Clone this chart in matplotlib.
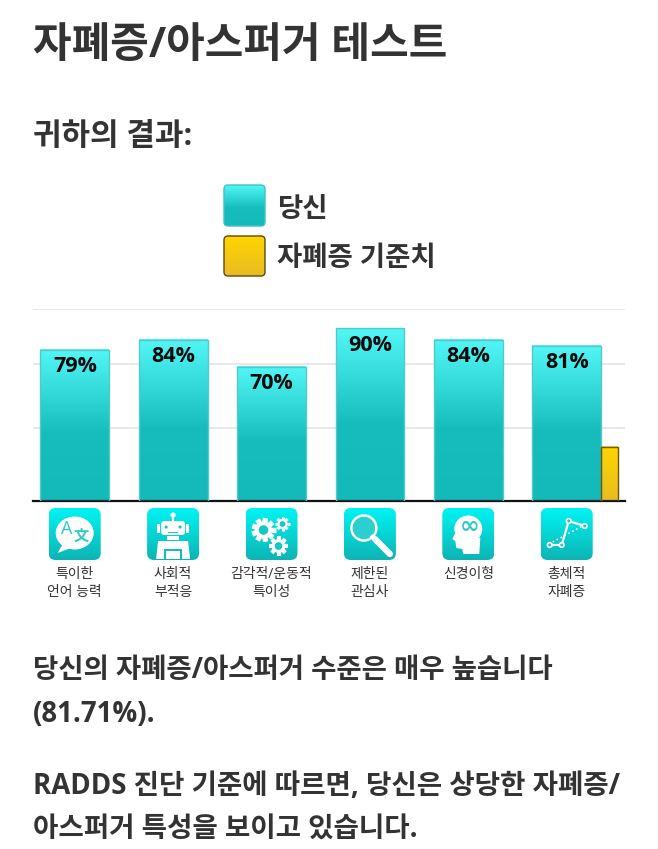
import numpy as np
import matplotlib
matplotlib.use("Agg")
from matplotlib import pyplot as plt
from matplotlib.colors import LinearSegmentedColormap
from matplotlib.patches import FancyBboxPatch, Circle, Rectangle, Polygon, Ellipse

plt.rcParams['font.family'] = ['Open Sans', 'Noto Sans CJK KR', 'DejaVu Sans']

values = [79, 84, 70, 90, 84, 81]
value_labels = ["79%", "84%", "70%", "90%", "84%", "81%"]
threshold = 28.3
grid_values = [38.3, 71.4, 100]
categories = ["특이한\n언어 능력", "사회적\n부적응", "감각적/운동적\n특이성",
              "제한된\n관심사", "신경이형", "총체적\n자폐증"]
legend_labels = ["당신", "자폐증 기준치"]
title = "자폐증/아스퍼거 테스트"
subtitle = "귀하의 결과:"
para1 = ["당신의 자폐증/아스퍼거 수준은 매우 높습니다", "(81.71%)."]
para2 = ["RADDS 진단 기준에 따르면, 당신은 상당한 자폐증/", "아스퍼거 특성을 보이고 있습니다."]

W, H = 658, 849
TEXT = "#333333"
teal = LinearSegmentedColormap.from_list("teal", [(0, "#52F6F6"), (0.55, "#17BDBD"), (1, "#14B9B9")])
icon_teal = LinearSegmentedColormap.from_list("iconteal", ["#00F4F4", "#0DB4B4"])
gold = LinearSegmentedColormap.from_list("gold", ["#FFD500", "#E8BC22"])
grad = np.linspace(0, 1, 128).reshape(-1, 1)

fig = plt.figure(figsize=(W / 100, H / 100), dpi=100, facecolor="white")

# full figure axes in pixels, for text, legend and icons
page = fig.add_axes([0, 0, 1, 1])
page.set_xlim(0, W)
page.set_ylim(H, 0)
page.axis("off")


def grad_box(x, y, w, h, cmap, edge=None, rad=5, lw=1.0):
    box = FancyBboxPatch((x + rad, y + rad), w - 2 * rad, h - 2 * rad,
                         boxstyle="round,pad=%f,rounding_size=%f" % (rad, rad),
                         fc="none", ec=edge if edge else "none", lw=lw, zorder=3)
    page.add_patch(box)
    im = page.imshow(grad, cmap=cmap, extent=(x, x + w, y + h, y), aspect="auto", zorder=2)
    im.set_clip_path(box)


page.text(33, 46, title, fontsize=30.2, fontweight="bold", color=TEXT, va="center")
page.text(33, 137, subtitle, fontsize=22.3, fontweight="bold", color=TEXT, va="center")

grad_box(224, 185, 41, 41, teal, edge="#3CC4C4", rad=4)
grad_box(224, 236, 41, 40, gold, edge="#5A4A10", rad=4)
page.text(277, 209, legend_labels[0], fontsize=19.8, fontweight="bold", color=TEXT, va="center")
page.text(277, 259, legend_labels[1], fontsize=19.8, fontweight="bold", color=TEXT, va="center")

for i, line in enumerate(para1):
    page.text(33, 670 + i * 44, line, fontsize=19.8, fontweight="bold", color=TEXT, va="center")
for i, line in enumerate(para2):
    page.text(33, 786 + i * 44, line, fontsize=19.9, fontweight="bold", color=TEXT, va="center")

# chart axes, baseline at y=501 and 100% at y=309
ax = fig.add_axes([33 / W, 1 - 501.3 / H, 592 / W, 192 / H])
ax.patch.set_alpha(0)
for s in ["top", "left", "right"]:
    ax.spines[s].set_visible(False)
ax.spines["bottom"].set_linewidth(1.6)
ax.spines["bottom"].set_color("#111111")
ax.set_xticks([])
ax.set_yticks(grid_values)
ax.tick_params(axis="y", length=0, labelleft=False)
ax.grid(axis="y", color="#E4E4E4", lw=1.2)
ax.set_axisbelow(True)

x = np.arange(len(values))
width = 0.70
bars = ax.bar(x, values, width, facecolor="none", edgecolor="#55C8C8", lw=1.0, zorder=3)
for bar, label in zip(bars, value_labels):
    bx, bw, bh = bar.get_x(), bar.get_width(), bar.get_height()
    ax.imshow(grad, cmap=teal, extent=(bx, bx + bw, 0, bh), aspect="auto", zorder=2)
    ax.annotate(label, (bx + bw / 2, bh), xytext=(0, -12), textcoords="offset points",
                ha="center", va="center", fontsize=15.5, fontweight="bold",
                family="Open Sans", color="#0A0A0A", zorder=5)

y_bar = ax.bar([x[-1] + width / 2], [threshold], 0.167, align="edge",
               facecolor="none", edgecolor="#6B5510", lw=1.0, zorder=3)[0]
ax.imshow(grad, cmap=gold, extent=(y_bar.get_x(), y_bar.get_x() + y_bar.get_width(), 0, threshold),
          aspect="auto", zorder=2)
ax.set_xlim(-0.425, 5.591)
ax.set_ylim(0, 100)


# icons, coordinates inside a 52 px square
def icon_translate(ox, oy):
    c = "white"
    page.add_patch(Ellipse((ox + 26, oy + 25), 38, 33, fc=c, zorder=4))
    page.add_patch(Polygon([(ox + 14, oy + 36), (ox + 9, oy + 45), (ox + 22, oy + 40)], fc=c, zorder=4))
    page.text(ox + 18, oy + 21, "A", fontsize=13, color="#35C8C8", ha="center", va="center", zorder=5)
    page.text(ox + 33, oy + 29, "文", fontsize=11, color="#35C8C8", ha="center", va="center", zorder=5, fontweight="bold")


def icon_robot(ox, oy):
    c = "white"
    page.add_patch(Circle((ox + 26, oy + 7), 2.6, fc=c, zorder=4))
    page.add_patch(Rectangle((ox + 25, oy + 8), 2, 5, fc=c, zorder=4))
    page.add_patch(FancyBboxPatch((ox + 15, oy + 14), 22, 12, boxstyle="round,pad=1,rounding_size=3", fc=c, ec="none", zorder=4))
    page.add_patch(Rectangle((ox + 10, oy + 16), 3, 9, fc=c, zorder=4))
    page.add_patch(Rectangle((ox + 39, oy + 16), 3, 9, fc=c, zorder=4))
    page.add_patch(Circle((ox + 19, oy + 19), 1.6, fc="#22C4C4", zorder=5))
    page.add_patch(Circle((ox + 33, oy + 19), 1.6, fc="#22C4C4", zorder=5))
    page.add_patch(Rectangle((ox + 21, oy + 24), 10, 1.2, fc="#22C4C4", zorder=5))
    page.add_patch(Rectangle((ox + 20, oy + 28), 12, 4, fc=c, zorder=4))
    page.add_patch(Polygon([(ox + 11, oy + 33), (ox + 41, oy + 33), (ox + 43, oy + 51), (ox + 9, oy + 51)], fc=c, zorder=4))
    page.add_patch(Rectangle((ox + 17, oy + 41), 18, 10, fc="#14BCBC", zorder=5))
    page.add_patch(Rectangle((ox + 19, oy + 43), 14, 8, fc=c, zorder=6))


def gear(cx, cy, r, teeth):
    c = "white"
    for a in np.linspace(0, 2 * np.pi, teeth, endpoint=False):
        page.plot([cx + r * 0.7 * np.cos(a), cx + r * 1.2 * np.cos(a)],
                  [cy + r * 0.7 * np.sin(a), cy + r * 1.2 * np.sin(a)],
                  color=c, lw=r * 0.38, solid_capstyle="butt", zorder=4)
    page.add_patch(Circle((cx, cy), r * 0.85, fc=c, zorder=4))
    page.add_patch(Circle((cx, cy), r * 0.48, fc="#14C8C8", zorder=5))


def icon_gears(ox, oy):
    gear(ox + 18, oy + 22, 10, 9)
    gear(ox + 37, oy + 16, 6, 8)
    gear(ox + 33, oy + 38, 8, 8)


def icon_lens(ox, oy):
    page.add_patch(Circle((ox + 20, oy + 20), 12.5, fc="#2CCFCF", ec="white", lw=1.8, zorder=4))
    page.plot([ox + 31, ox + 46], [oy + 31, oy + 46], color="white", lw=4.5, solid_capstyle="round", zorder=4)
    page.plot([ox + 28.5, ox + 31], [oy + 28.5, oy + 31], color="white", lw=2.5, zorder=4)


def icon_head(ox, oy):
    c = "white"
    page.add_patch(Ellipse((ox + 26, oy + 21), 28, 27, fc=c, zorder=4))
    page.add_patch(Polygon([(ox + 13, oy + 25), (ox + 10, oy + 31), (ox + 13, oy + 33), (ox + 14, oy + 40),
                            (ox + 20, oy + 41), (ox + 21, oy + 46), (ox + 37, oy + 46), (ox + 38, oy + 30)], fc=c, zorder=4))
    page.text(ox + 27, oy + 18, "∞", fontsize=17, color="#35C8C8", ha="center", va="center",
              zorder=5, family="DejaVu Sans", fontweight="bold")


def icon_graph(ox, oy):
    xs = [ox + 9, ox + 21, ox + 28, ox + 44]
    ys = [oy + 37, oy + 37, oy + 13, oy + 18]
    page.plot(xs, ys, color="white", lw=1.6, zorder=4)
    page.plot([ox + 12, ox + 42], [oy + 34, oy + 18], color="white", lw=1.2, ls=":", zorder=4)
    for px, py in zip(xs, ys):
        page.add_patch(Circle((px, py), 2.3, fc="#22C4C4", ec="white", lw=1.2, zorder=5))


icons = [icon_translate, icon_robot, icon_gears, icon_lens, icon_head, icon_graph]
for i, (draw, cat) in enumerate(zip(icons, categories)):
    ox = 48.7 + i * 98.4
    grad_box(ox, 508, 52, 52, icon_teal, rad=7)
    draw(ox, 508)
    for j, line in enumerate(cat.split("\n")):
        page.text(ox + 26, 574.5 + j * 18, line, fontsize=10, color="#333333", ha="center", va="center", zorder=5)

page.set_xlim(0, W)
page.set_ylim(H, 0)
fig.savefig("out.png", dpi=100, facecolor="white")
